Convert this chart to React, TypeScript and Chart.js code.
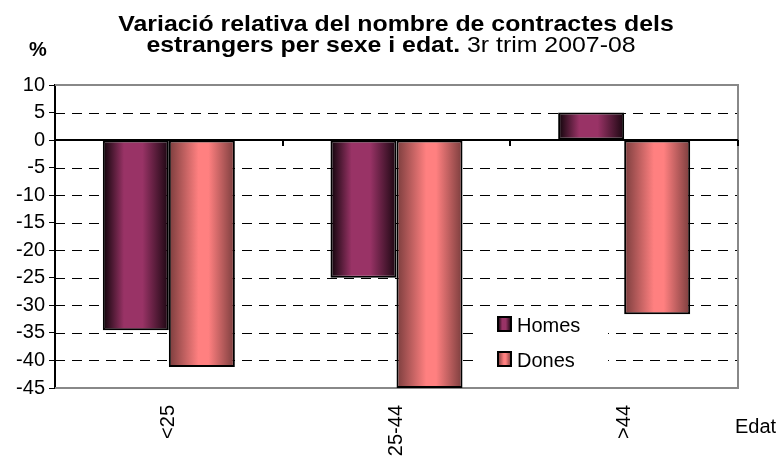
import React, { useEffect, useRef } from 'react';
import { Chart, registerables } from 'chart.js';

Chart.register(...registerables);

const categories = ['<25', '25-44', '>44'];
const seriesNames = ['Homes', 'Dones'];
const homes = [-34.5, -25.0, 5.0];
const dones = [-41.2, -45.0, -31.6];
const yMin = -45;
const yMax = 10;
const yStep = 5;
const titleLine1 = 'Variació relativa del nombre de contractes dels';
const titleLine2Bold = 'estrangers per sexe i edat.';
const titleLine2Normal = ' 3r trim 2007-08';
const yUnit = '%';
const xAxisTitle = 'Edat';

const FONT = "'Liberation Sans', Arial, sans-serif";
const CAT_PCT = 0.58;

const homesStops: [number, string][] = [
  [0, '#0d0308'],
  [0.32, '#993366'],
  [0.6, '#993366'],
  [1, '#1a0610'],
];
const donesStops: [number, string][] = [
  [0, '#7a3d3d'],
  [0.45, '#ff8080'],
  [0.6, '#ff8080'],
  [1, '#7a3d3d'],
];

function makeGrad(ctx: CanvasRenderingContext2D, x0: number, x1: number, stops: [number, string][]) {
  const g = ctx.createLinearGradient(x0, 0, x1, 0);
  for (const [o, c] of stops) g.addColorStop(o, c);
  return g;
}

function barFill(stops: [number, string][], side: number) {
  return (c: any) => {
    const chart = c.chart;
    const xs = chart.scales?.x;
    if (!xs || !chart.chartArea) return stops[1][1];
    const center = xs.getPixelForValue(c.dataIndex);
    const catW = xs.width / categories.length;
    const bw = (catW * CAT_PCT) / 2;
    const left = side === 0 ? center - bw : center;
    return makeGrad(chart.ctx, left, left + bw, stops);
  };
}

const decor = {
  id: 'decor',
  beforeDatasetsDraw(chart: any) {
    const { ctx, chartArea: a, scales } = chart;
    const y = scales.y;
    ctx.save();
    ctx.strokeStyle = '#000';
    ctx.lineWidth = 1;
    ctx.setLineDash([10, 7]);
    for (const t of y.ticks) {
      if (t.value === 0 || t.value === yMax || t.value === yMin) continue;
      const py = Math.round(y.getPixelForValue(t.value)) + 0.5;
      ctx.beginPath();
      ctx.moveTo(a.left, py);
      ctx.lineTo(a.right, py);
      ctx.stroke();
    }
    ctx.setLineDash([]);
    ctx.strokeStyle = '#888';
    ctx.lineWidth = 2;
    ctx.beginPath();
    ctx.moveTo(a.left, a.top);
    ctx.lineTo(a.right, a.top);
    ctx.lineTo(a.right, a.bottom);
    ctx.lineTo(a.left, a.bottom);
    ctx.stroke();
    ctx.restore();
  },
  afterDatasetsDraw(chart: any) {
    const { ctx, chartArea: a, scales } = chart;
    const x = scales.x;
    const y = scales.y;
    ctx.save();
    // zero line
    const zy = Math.round(y.getPixelForValue(0));
    ctx.strokeStyle = '#000';
    ctx.lineWidth = 2;
    ctx.beginPath();
    ctx.moveTo(a.left, zy);
    ctx.lineTo(a.right, zy);
    ctx.stroke();
    // category tick marks
    for (let i = 0; i < categories.length; i++) {
      const px = Math.round(i < categories.length - 1
        ? (x.getPixelForValue(i) + x.getPixelForValue(i + 1)) / 2
        : a.right);
      ctx.beginPath();
      ctx.moveTo(px, zy);
      ctx.lineTo(px, zy + 6);
      ctx.stroke();
    }

    // legend
    const lx = a.left + 420;
    const ly = a.top + 225;
    ctx.fillStyle = '#fff';
    ctx.fillRect(lx, ly, 133, 65);
    const items = [
      { name: seriesNames[0], stops: homesStops },
      { name: seriesNames[1], stops: donesStops },
    ];
    items.forEach((it, i) => {
      const sx = lx + 23;
      const sy = ly + 7 + i * 35;
      ctx.fillStyle = makeGrad(ctx, sx, sx + 13, it.stops);
      ctx.fillRect(sx, sy, 13, 14);
      ctx.strokeStyle = '#000';
      ctx.lineWidth = 2;
      ctx.strokeRect(sx, sy, 13, 14);
      ctx.fillStyle = '#000';
      ctx.font = `20px ${FONT}`;
      ctx.textAlign = 'left';
      ctx.textBaseline = 'alphabetic';
      ctx.fillText(it.name, lx + 42, sy + 15);
    });
    ctx.restore();
  },
  afterDraw(chart: any) {
    const { ctx } = chart;
    ctx.save();
    ctx.fillStyle = '#000';
    ctx.textBaseline = 'alphabetic';
    const sx = 1.13;
    // line 1
    ctx.font = `bold 22px ${FONT}`;
    const w1 = ctx.measureText(titleLine1).width * sx;
    ctx.save();
    ctx.translate(396 - w1 / 2, 31);
    ctx.scale(sx, 1);
    ctx.textAlign = 'left';
    ctx.fillText(titleLine1, 0, 0);
    ctx.restore();
    // line 2
    ctx.font = `bold 22px ${FONT}`;
    const wb = ctx.measureText(titleLine2Bold).width;
    ctx.font = `22px ${FONT}`;
    const wn = ctx.measureText(titleLine2Normal).width;
    const w2 = (wb + wn) * sx;
    ctx.save();
    ctx.translate(391 - w2 / 2, 52);
    ctx.scale(sx, 1);
    ctx.textAlign = 'left';
    ctx.font = `bold 22px ${FONT}`;
    ctx.fillText(titleLine2Bold, 0, 0);
    ctx.font = `22px ${FONT}`;
    ctx.fillText(titleLine2Normal, wb, 0);
    ctx.restore();
    // % unit
    ctx.font = `bold 20px ${FONT}`;
    ctx.textAlign = 'center';
    ctx.fillText(yUnit, 38, 56);
    // x axis title
    ctx.font = `20px ${FONT}`;
    ctx.textAlign = 'left';
    ctx.fillText(xAxisTitle, 735, 433);
    ctx.restore();
  },
};

export default function App() {
  const ref = useRef<HTMLCanvasElement | null>(null);
  useEffect(() => {
    document.body.style.margin = '0';
    const canvas = ref.current;
    if (!canvas) return;
    const chart = new Chart(canvas, {
      type: 'bar',
      data: {
        labels: categories,
        datasets: [
          {
            label: seriesNames[0],
            data: homes,
            backgroundColor: barFill(homesStops, 0),
            borderColor: '#000',
            borderWidth: 2,
            borderSkipped: false,
            categoryPercentage: CAT_PCT,
            barPercentage: 1,
          },
          {
            label: seriesNames[1],
            data: dones,
            backgroundColor: barFill(donesStops, 1),
            borderColor: '#000',
            borderWidth: 2,
            borderSkipped: false,
            categoryPercentage: CAT_PCT,
            barPercentage: 1,
          },
        ],
      },
      options: {
        animation: false,
        responsive: false,
        maintainAspectRatio: false,
        devicePixelRatio: 1,
        layout: { padding: { top: 85, right: 41, left: 0, bottom: 0 } },
        plugins: {
          legend: { display: false },
          title: { display: false },
          tooltip: { enabled: false },
        },
        scales: {
          x: {
            grid: { display: false, drawTicks: false },
            border: { display: false },
            ticks: {
              color: '#000',
              font: { family: FONT, size: 20 },
              minRotation: 90,
              maxRotation: 90,
              padding: 17,
              autoSkip: false,
            },
            afterFit: (s: any) => {
              s.height = 69;
            },
          },
          y: {
            min: yMin,
            max: yMax,
            ticks: {
              stepSize: yStep,
              color: '#000',
              font: { family: FONT, size: 20 },
              padding: 4,
              autoSkip: false,
            },
            grid: {
              display: true,
              drawOnChartArea: false,
              drawTicks: true,
              tickLength: 6,
              tickColor: '#000',
              lineWidth: 1,
            },
            border: { display: true, color: '#000', width: 2 },
            afterFit: (s: any) => {
              s.width = 55;
            },
          },
        },
      },
      plugins: [decor],
    });
    return () => chart.destroy();
  }, []);
  return (
    <div style={{ width: 779, height: 457 }}>
      <canvas ref={ref} width={779} height={457} style={{ display: 'block', width: 779, height: 457 }} />
    </div>
  );
}
